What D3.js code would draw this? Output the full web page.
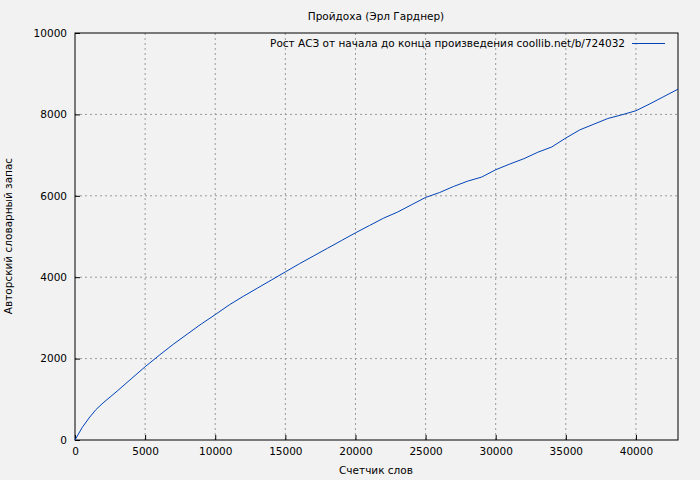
<!DOCTYPE html>
<html><head><meta charset="utf-8">
<script src="https://cdn.jsdelivr.net/npm/d3@7"></script>
<style>body{margin:0;background:#f2f2f2}svg{display:block}text{font-family:"DejaVu Sans",sans-serif;font-size:10.5px;fill:#000}</style>
</head><body><svg id="c" width="700" height="480"></svg>
<script>
const words=[0,500,1000,1500,2000,3000,4000,5000,6000,7000,8000,9000,10000,11000,12000,13000,14000,15000,16000,17000,18000,19000,20000,21000,22000,23000,24000,25000,26000,27000,28000,29000,30000,31000,32000,33000,34000,35000,36000,37000,38000,39000,40000,41000,42000,43000];
const vocab=[0,300,540,750,910,1200,1500,1800,2080,2350,2600,2850,3080,3320,3530,3730,3930,4130,4330,4520,4710,4900,5090,5270,5450,5600,5780,5960,6080,6230,6360,6460,6640,6780,6910,7070,7200,7420,7620,7760,7900,7990,8090,8260,8440,8620];
const xTicks=[0,5000,10000,15000,20000,25000,30000,35000,40000];
const yTicks=[0,2000,4000,6000,8000,10000];
const title="Пройдоха (Эрл Гарднер)",legend="Рост АСЗ от начала до конца произведения coollib.net/b/724032",
xLabel="Счетчик слов",yLabel="Авторский словарный запас";
const svg=d3.select("#c");
const L=75,R=678,T=33,B=440;
const x=d3.scaleLinear().domain([0,43000]).range([L,R]);
const y=d3.scaleLinear().domain([0,10000]).range([B,T]);
const g=svg.append("g");
xTicks.slice(1).forEach(t=>g.append("line").attr("x1",x(t)).attr("x2",x(t)).attr("y1",T).attr("y2",B).attr("stroke","#999").attr("stroke-dasharray","2,3"));
yTicks.slice(1,-1).forEach(t=>g.append("line").attr("x1",L).attr("x2",R).attr("y1",y(t)).attr("y2",y(t)).attr("stroke","#999").attr("stroke-dasharray","2,3"));
svg.append("rect").attr("x",L).attr("y",T).attr("width",R-L).attr("height",B-T).attr("fill","none").attr("stroke","#000");
const ax=svg.append("g").attr("transform",`translate(0,${B})`).call(d3.axisBottom(x).tickValues(xTicks).tickFormat(d3.format("d")).tickSize(-5).tickPadding(8));
const ay=svg.append("g").attr("transform",`translate(${L},0)`).call(d3.axisLeft(y).tickValues(yTicks).tickFormat(d3.format("d")).tickSize(-5).tickPadding(8));
[ax,ay].forEach(a=>{a.select(".domain").remove();a.selectAll("text").style("font-family","DejaVu Sans").style("font-size","10.5px");});
svg.append("path").datum(words.map((w,i)=>[w,vocab[i]])).attr("d",d3.line().x(d=>x(d[0])).y(d=>y(d[1]))).attr("fill","none").attr("stroke","#0042b8").attr("stroke-width",1);
svg.append("text").attr("x",376).attr("y",20).attr("text-anchor","middle").text(title);
svg.append("text").attr("x",625).attr("y",47).attr("text-anchor","end").text(legend);
svg.append("line").attr("x1",632).attr("x2",665).attr("y1",43.5).attr("y2",43.5).attr("stroke","#0042b8");
svg.append("text").attr("x",376).attr("y",474).attr("text-anchor","middle").text(xLabel);
svg.append("text").attr("transform","translate(12,236) rotate(-90)").attr("text-anchor","middle").text(yLabel);
</script></body></html>
